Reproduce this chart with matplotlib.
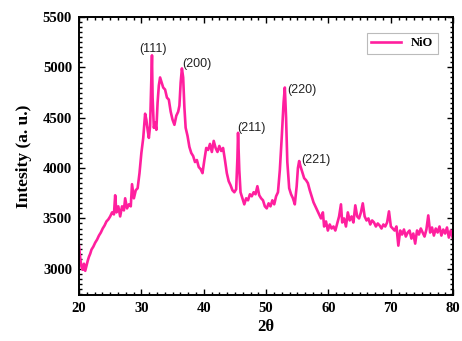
import matplotlib
matplotlib.use("Agg")
import matplotlib.pyplot as plt
from matplotlib.ticker import MultipleLocator, AutoMinorLocator

# XRD pattern of NiO: 2-theta (deg) and intensity (a.u.)
two_theta = [
    20.0, 20.2, 20.4, 20.6, 20.8, 21.0, 21.2, 21.4, 21.6, 21.8,
    22.0, 22.3, 22.6, 22.9, 23.2, 23.5, 23.8, 24.1, 24.4, 24.7,
    25.0, 25.3, 25.6, 25.8, 26.0, 26.3, 26.6, 26.9, 27.2, 27.4,
    27.7, 28.0, 28.3, 28.5, 28.8, 29.1, 29.4, 29.7, 30.0, 30.3,
    30.6, 30.8, 31.0, 31.2, 31.4, 31.6, 31.7, 31.8, 32.0, 32.2,
    32.4, 32.6, 32.8, 33.0, 33.2, 33.5, 33.8, 34.1, 34.4, 34.7,
    35.0, 35.3, 35.6, 35.9, 36.1, 36.3, 36.5, 36.7, 36.9, 37.1,
    37.4, 37.7, 38.0, 38.3, 38.6, 38.9, 39.2, 39.5, 39.8, 40.1,
    40.4, 40.7, 41.0, 41.3, 41.6, 41.9, 42.2, 42.5, 42.8, 43.1,
    43.4, 43.7, 44.0, 44.3, 44.6, 44.9, 45.2, 45.4, 45.5, 45.7,
    45.9, 46.2, 46.5, 46.8, 47.1, 47.4, 47.7, 48.0, 48.3, 48.6,
    48.9, 49.2, 49.5, 49.8, 50.1, 50.4, 50.7, 51.0, 51.3, 51.6,
    51.9, 52.2, 52.5, 52.8, 53.0, 53.2, 53.4, 53.7, 54.0, 54.3,
    54.6, 54.9, 55.1, 55.3, 55.5, 55.8, 56.1, 56.4, 56.7, 57.0,
    57.3, 57.6, 57.9, 58.2, 58.5, 58.8, 59.1, 59.3, 59.6, 59.9,
    60.2, 60.5, 60.8, 61.1, 61.4, 61.7, 62.0, 62.2, 62.5, 62.8,
    63.1, 63.4, 63.7, 64.0, 64.3, 64.6, 64.9, 65.2, 65.5, 65.8,
    66.1, 66.4, 66.7, 67.0, 67.3, 67.6, 67.9, 68.2, 68.5, 68.8,
    69.1, 69.4, 69.7, 70.0, 70.3, 70.6, 70.9, 71.2, 71.5, 71.8,
    72.1, 72.4, 72.7, 73.0, 73.3, 73.6, 73.9, 74.2, 74.5, 74.8,
    75.1, 75.4, 75.7, 76.0, 76.3, 76.6, 76.9, 77.2, 77.5, 77.8,
    78.1, 78.4, 78.7, 79.0, 79.3, 79.6, 80.0,
]
intensity = [
    3230, 3100, 3020, 2990, 3050, 2980, 3030, 3080, 3120, 3150,
    3190, 3220, 3260, 3290, 3330, 3360, 3400, 3430, 3470, 3490,
    3520, 3560, 3540, 3730, 3560, 3620, 3520, 3620, 3580, 3700,
    3600, 3640, 3620, 3840, 3700, 3780, 3800, 3950, 4150, 4300,
    4540, 4480, 4380, 4300, 4420, 4900, 5120, 4700, 4400, 4450,
    4380, 4650, 4820, 4900, 4860, 4800, 4780, 4700, 4680, 4560,
    4480, 4430, 4520, 4560, 4620, 4850, 4990, 4900, 4600, 4400,
    4320, 4210, 4150, 4120, 4060, 4080, 4010, 3990, 3950, 4080,
    4200, 4180, 4240, 4160, 4270, 4200, 4160, 4220, 4170, 4200,
    4080, 3950, 3870, 3830, 3780, 3760, 3790, 4100, 4350, 3980,
    3760, 3700, 3640, 3700, 3680, 3740, 3720, 3760, 3740, 3820,
    3730, 3700, 3680, 3620, 3600, 3650, 3620, 3680, 3640, 3720,
    3760, 3980, 4300, 4650, 4800, 4500, 4060, 3800, 3740, 3700,
    3640, 3820, 4000, 4070, 4020, 3960, 3900, 3880, 3850, 3780,
    3720, 3660, 3620, 3580, 3540, 3500, 3560, 3420, 3470, 3380,
    3440, 3400, 3420, 3380, 3450, 3520, 3640, 3460, 3500, 3420,
    3560, 3480, 3520, 3460, 3630, 3520, 3500, 3560, 3650, 3520,
    3480, 3500, 3440, 3480, 3460, 3420, 3450, 3430, 3400, 3440,
    3420, 3460, 3570, 3420, 3400, 3380, 3420, 3230, 3380, 3340,
    3390, 3320, 3360, 3380, 3300, 3350, 3250, 3380, 3340, 3400,
    3360, 3320, 3390, 3530, 3360, 3410, 3330, 3400, 3360, 3420,
    3330, 3390, 3350, 3410, 3310, 3380, 3290,
]

# Miller-index labels and where they sit
peak_labels = ["(111)", "(200)", "(211)", "(220)", "(221)"]
label_x = [31.9, 36.6, 45.4, 53.4, 55.7]
label_y = [5180, 5030, 4400, 4780, 4080]
label_ha = ["center", "left", "left", "left", "left"]

fig = plt.figure(figsize=(4.62, 3.41), dpi=100)
ax = fig.add_axes([0.171, 0.135, 0.81, 0.815])

ax.plot(two_theta, intensity, color="#ff1f9e", lw=1.9, label="NiO")

for txt, xx, yy, ha in zip(peak_labels, label_x, label_y, label_ha):
    ax.text(xx, yy, txt, ha=ha, va="center", fontsize=9,
            family="Liberation Sans", color="#222222")

ax.set_xlim(20, 80)
ax.set_ylim(2740, 5500)
ax.xaxis.set_major_locator(MultipleLocator(10))
ax.xaxis.set_minor_locator(AutoMinorLocator(8))
ax.yaxis.set_major_locator(MultipleLocator(500))
ax.yaxis.set_minor_locator(AutoMinorLocator(10))

ax.tick_params(which="both", direction="in", top=True, right=True,
               width=1.0)
ax.tick_params(which="major", length=4.5, labelsize=10.5, pad=5)
ax.tick_params(which="minor", length=2.5)
for lab in ax.get_xticklabels() + ax.get_yticklabels():
    lab.set_family("Liberation Serif")
    lab.set_fontweight("bold")
for sp in ax.spines.values():
    sp.set_linewidth(1.4)

ax.set_xlabel("2θ", fontsize=12, fontweight="bold",
              family="Liberation Serif", labelpad=3)
ax.set_ylabel("Intesity (a. u.)", fontsize=12.5, fontweight="bold",
              family="Liberation Serif", labelpad=8)

leg = ax.legend(loc="upper right", bbox_to_anchor=(0.975, 0.965),
                prop={"family": "Liberation Serif", "weight": "bold",
                      "size": 9},
                handlelength=2.4, borderpad=0.35, fancybox=False,
                framealpha=1, edgecolor="#bbbbbb")
leg.get_frame().set_linewidth(0.8)

fig.savefig("out.png", dpi=100)
